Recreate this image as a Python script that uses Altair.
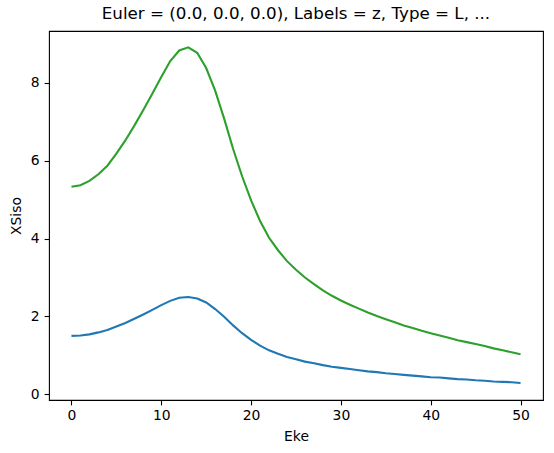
import altair as alt
import pandas as pd

eke = list(range(0, 51))

green_vals = [5.33, 5.37, 5.48, 5.65, 5.87, 6.18, 6.52, 6.90, 7.30, 7.72,
              8.15, 8.56, 8.83, 8.91, 8.77, 8.38, 7.80, 7.08, 6.30, 5.60,
              4.98, 4.45, 4.02, 3.70, 3.42, 3.20, 3.00, 2.83, 2.67, 2.53,
              2.41, 2.30, 2.20, 2.10, 2.01, 1.93, 1.85, 1.77, 1.70, 1.63,
              1.57, 1.51, 1.45, 1.39, 1.34, 1.29, 1.24, 1.18, 1.13, 1.08,
              1.03]

blue_vals = [1.50, 1.51, 1.54, 1.59, 1.65, 1.74, 1.83, 1.94, 2.05, 2.17,
             2.29, 2.40, 2.48, 2.50, 2.46, 2.36, 2.19, 1.99, 1.77, 1.57,
             1.40, 1.25, 1.13, 1.04, 0.96, 0.90, 0.84, 0.80, 0.75, 0.71,
             0.68, 0.65, 0.62, 0.59, 0.57, 0.54, 0.52, 0.50, 0.48, 0.46,
             0.44, 0.43, 0.41, 0.39, 0.38, 0.36, 0.35, 0.33, 0.32, 0.31,
             0.29]

series_names = ["a", "b"]
series_colors = ["#1f77b4", "#2ca02c"]

x_ticks = [0, 10, 20, 30, 40, 50]
y_ticks = [0, 2, 4, 6, 8]

rows = []
for name, vals in zip(series_names, [blue_vals, green_vals]):
    for x, y in zip(eke, vals):
        rows.append({"Eke": x, "XSiso": y, "series": name})
df = pd.DataFrame(rows)

FONT = "DejaVu Sans"

chart = alt.Chart(df).mark_line(strokeWidth=2.1, clip=True).encode(
    x=alt.X("Eke:Q",
            scale=alt.Scale(domain=[-2.5, 52.5], nice=False, zero=False),
            axis=alt.Axis(values=x_ticks, title="Eke", titleY=40,
                          titleBaseline="alphabetic", labelPadding=4)),
    y=alt.Y("XSiso:Q",
            scale=alt.Scale(domain=[-0.146, 9.33], nice=False, zero=False),
            axis=alt.Axis(values=y_ticks, title="XSiso", titleX=-33,
                          titleY=184.5, titleBaseline="middle",
                          titleAlign="center", titleAngle=270, labelPadding=5)),
    color=alt.Color("series:N",
                    scale=alt.Scale(domain=series_names, range=series_colors),
                    legend=None),
    detail="series:N",
).properties(
    width=494,
    height=369,
    title=alt.TitleParams(
        text="Euler = (0.0, 0.0, 0.0), Labels = z, Type = L, ...",
        font=FONT, fontSize=16.7, fontWeight="normal", color="black",
        anchor="middle", offset=8),
    autosize=alt.AutoSizeParams(type="none"),
    padding={"left": 49, "top": 31, "right": 11, "bottom": 53},
).configure(
    background="white"
).configure_view(
    stroke="black", strokeWidth=1.1
).configure_axis(
    domain=False,
    grid=False,
    tickColor="black",
    tickWidth=1.1,
    tickSize=4.9,
    labelFont=FONT,
    labelFontSize=13.9,
    labelColor="black",
    titleFont=FONT,
    titleFontSize=13.9,
    titleFontWeight="normal",
    titleColor="black",
)

chart.save("out.html", embed_options={"renderer": "svg", "actions": False})
